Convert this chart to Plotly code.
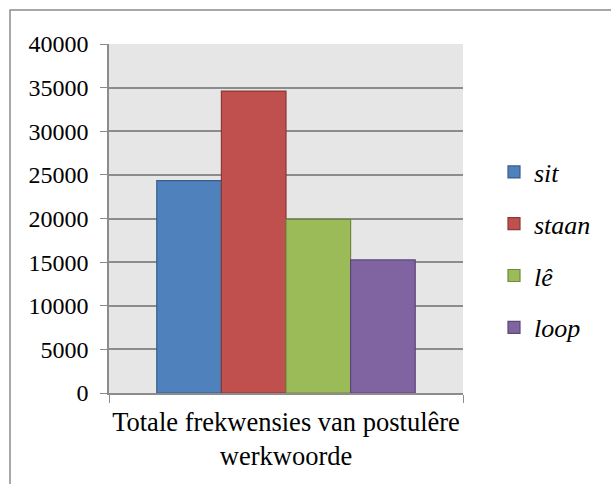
import plotly.graph_objects as go

# Totals per postural verb
category = ["Totale frekwensies van postulêre<br>werkwoorde"]
verbs = ["sit", "staan", "lê", "loop"]
totals = [24350, 34600, 19900, 15250]
y_ticks = [0, 5000, 10000, 15000, 20000, 25000, 30000, 35000, 40000]

fills = ["#4f81bd", "#c0504d", "#9bbb59", "#8064a2"]
edges = ["#385d8a", "#8c3836", "#71893f", "#5c4776"]

SERIF = "Liberation Serif"
W, H = 611, 484
L, R, T, B = 109, 148, 44, 91

fig = go.Figure()
for i, (verb, val) in enumerate(zip(verbs, totals)):
    fig.add_trace(go.Bar(
        x=category, y=[val], name=verb, legendgroup=verb,
        marker=dict(color=fills[i], line=dict(color=edges[i], width=1.2)),
    ))

pw = W - L - R
ph = H - T - B

fig.update_layout(
    width=W, height=H,
    margin=dict(l=L, r=R, t=T, b=B, pad=0),
    paper_bgcolor="white",
    plot_bgcolor="#e6e6e6",
    barmode="group",
    bargap=0.27,
    bargroupgap=0,
    font=dict(family=SERIF, color="black", size=24),
    showlegend=True,
    legend=dict(
        x=(494 - L) / pw, xanchor="left",
        y=(H - B - 250) / ph, yanchor="middle",
        font=dict(size=26, style="italic", family=SERIF, color="black"),
        tracegroupgap=15,
        itemwidth=30,
        bgcolor="rgba(0,0,0,0)",
    ),
    xaxis=dict(
        showline=True, linecolor="#8c8c8c", linewidth=1.5,
        ticks="outside", tickson="boundaries", ticklen=8, tickcolor="#8c8c8c",
        tickfont=dict(size=26.5, family=SERIF, color="black"),
        tickangle=0, automargin=False, ticklabelstandoff=4,
        showgrid=False,
    ),
    yaxis=dict(
        range=[0, 40000], tickvals=y_ticks, ticktext=[str(v) for v in y_ticks],
        showline=True, linecolor="#8c8c8c", linewidth=1.5,
        ticks="outside", ticklen=7, tickcolor="#8c8c8c",
        showgrid=True, gridcolor="#8c8c8c", gridwidth=2,
        zeroline=False, automargin=False,
        tickfont=dict(size=24, family=SERIF, color="black"),
        ticklabelstandoff=7,
    ),
)

# chart frame
fig.add_shape(
    type="rect", xref="paper", yref="paper",
    x0=(10 - L) / pw, x1=2.0, y0=-1.0, y1=(H - B - 10) / ph,
    line=dict(color="#8c8c8c", width=1.5), fillcolor="rgba(0,0,0,0)",
    layer="below",
)

fig.write_html("out.html")
